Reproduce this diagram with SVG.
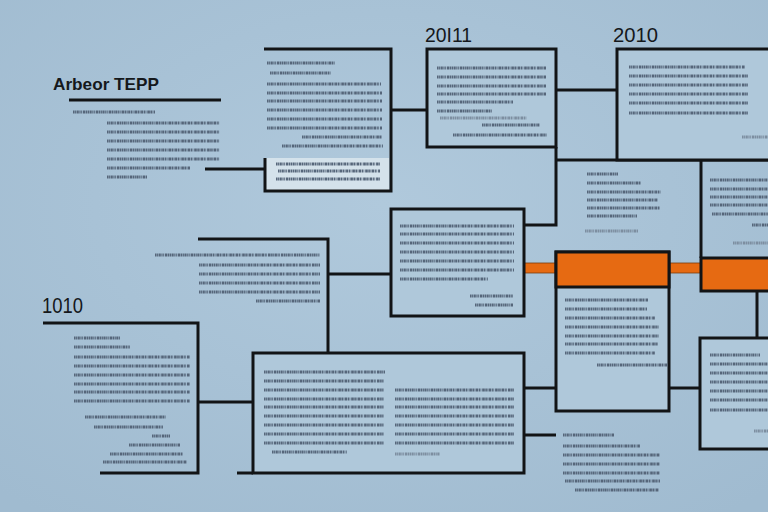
<svg xmlns="http://www.w3.org/2000/svg" width="768" height="512" viewBox="0 0 768 512">
<defs>
<radialGradient id="bg" cx="50%" cy="40%" r="75%">
<stop offset="0" stop-color="#b0c9dc"/>
<stop offset="1" stop-color="#a0bbd0"/>
</radialGradient>
</defs>
<style>
.b{fill:none;stroke:#121416;stroke-width:3;stroke-linejoin:miter}
.bf{fill:#afc8da;stroke:#121416;stroke-width:3}
.tx{fill:none;stroke:#56667a;stroke-width:2.8;stroke-dasharray:1.6 .5 1 .5 2.2 .6 1.2 .5 .8 .9 2.6 .5}
.lt{stroke:#7d8ea0}
.or{fill:#e66a12;stroke:#121416;stroke-width:3}
.ob{fill:#e66a12;stroke:#7a3d0e;stroke-width:.8}
.lbl{font-family:"Liberation Sans",Arial,sans-serif;fill:#15181b}
</style>
<rect width="768" height="512" fill="url(#bg)"/>

<g id="connectors">
<path class="b" d="M205,169H265 M391,110H427 M556,90H617 M556,147V225H524 M328,274H391 M198,402H253 M524,388H556 M524,435H556 M669,388H700 M757,291V338 M556,160H768"/>
<rect class="ob" x="524" y="263" width="32" height="10"/>
<rect class="ob" x="669" y="263" width="32" height="10"/>
</g>

<g id="title">
<text class="lbl" x="53" y="90" font-size="17" font-weight="bold" textLength="106" lengthAdjust="spacingAndGlyphs">Arbeor TEPP</text>
<path class="b" d="M69,100H221"/>
<path class="tx" d="M73,112H155 M107,123H220 M107,132H220 M107,141H220 M107,150H220 M107,159H220 M107,168H190 M107,177H147"/>
</g>

<g id="boxA">
<rect x="266" y="158" width="123" height="32" fill="#d4e2eb"/>
<path class="b" d="M264,49H391V191H265V158"/>
<path class="tx" d="M267,63H335 M270,73H331 M267,84H381 M267,93H382 M267,101H382 M267,110H382 M267,119H382 M267,128H382 M302,137H382 M282,146H383 M276,164H380 M278,171H380 M276,179H380"/>
</g>

<g id="boxB">
<text class="lbl" x="425" y="42" font-size="20" textLength="47" lengthAdjust="spacingAndGlyphs">20I11</text>
<rect class="bf" x="427" y="49" width="129" height="98"/>
<path class="tx" d="M437,68H546 M437,77H546 M437,86H546 M437,94H546 M437,102H513 M437,111H492 M482,125H540 M453,135H547"/>
<path class="tx lt" d="M440,118H527"/>
</g>

<g id="boxC">
<text class="lbl" x="613" y="42" font-size="20" textLength="45" lengthAdjust="spacingAndGlyphs">2010</text>
<rect class="bf" x="617" y="49" width="160" height="111"/>
<path class="tx" d="M629,67H745 M629,76H748 M629,85H748 M629,94H748 M629,103H748 M629,113H748"/>
<path class="tx lt" d="M742,137H768"/>
</g>

<g id="boxD">
<path class="tx" d="M587,174H618 M587,183H641 M587,192H661 M587,200H658 M587,208H660 M587,216H637"/>
<path class="tx lt" d="M585,231H638"/>
</g>

<g id="boxF">
<path class="b" d="M701,160V258"/>
<rect class="or" x="701" y="258" width="70" height="33"/>
<path class="tx" d="M710,180H768 M710,189H768 M710,197H768 M710,205H768 M712,214H768 M752,225H768"/>
<path class="tx lt" d="M733,243H768"/>
</g>

<g id="boxE">
<rect class="bf" x="391" y="209" width="133" height="107"/>
<path class="tx" d="M400,226H514 M400,234H514 M400,243H514 M400,252H514 M400,261H514 M400,270H514 M400,279H488 M470,296H513 M475,305H513"/>
</g>

<g id="boxG">
<rect class="bf" x="556" y="252" width="113" height="159"/>
<rect class="or" x="556" y="252" width="113" height="35"/>
<path class="tx" d="M565,300H648 M565,309H647 M565,318H655 M565,327H659 M565,336H659 M565,344H658 M565,353H655 M597,365H668"/>
</g>

<g id="boxH">
<rect class="bf" x="700" y="338" width="80" height="111"/>
<path class="tx" d="M710,355H760 M710,364H768 M710,373H768 M710,382H768 M710,391H768 M710,400H768 M710,410H768"/>
<path class="tx lt" d="M754,431H768"/>
</g>

<g id="boxI">
<rect class="bf" x="253" y="353" width="271" height="120"/>
<path class="b" d="M237,473H253"/>
<path class="tx" d="M264,372H385 M264,381H384 M264,390H384 M264,399H384 M264,407H384 M264,416H384 M264,425H384 M264,434H384 M264,443H384 M272,452H347 M395,390H514 M395,399H514 M395,407H514 M395,416H514 M395,425H514 M395,434H514 M395,443H514"/>
<path class="tx lt" d="M395,454H440"/>
</g>

<g id="boxL">
<path class="tx" d="M563,435H614 M563,446H640 M563,455H660 M563,464H660 M563,473H660 M565,481H660 M575,490H659"/>
</g>

<g id="boxJ">
<text class="lbl" x="42" y="313" font-size="22" textLength="41" lengthAdjust="spacingAndGlyphs">1010</text>
<path class="b" d="M43,323H198V473H100"/>
<path class="tx" d="M74,338H120 M74,347H130 M74,357H190 M74,366H190 M74,375H190 M74,384H190 M74,392H190 M74,401H190 M85,417H166 M94,427H163 M152,436H170 M129,445H180 M110,454H183 M103,462H187"/>
</g>

<g id="boxK">
<path class="b" d="M198,239H328V353"/>
<path class="tx" d="M155,255H320 M199,265H320 M199,274H320 M199,283H320 M199,292H320 M256,301H320"/>
</g>
</svg>
